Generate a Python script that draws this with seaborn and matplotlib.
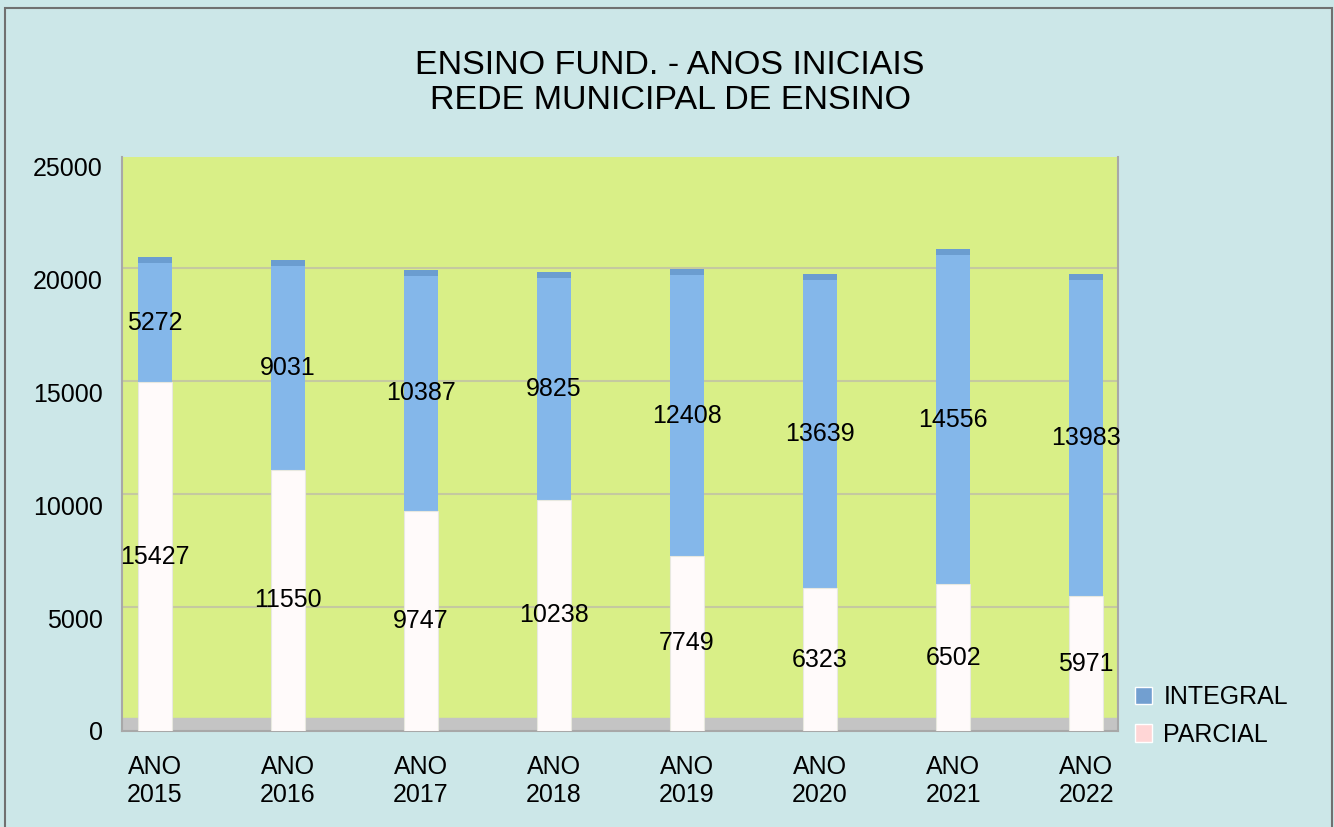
import matplotlib.pyplot as plt
import seaborn as sns
import pandas as pd
from matplotlib.patches import Patch, Rectangle

# data
anos = ["ANO\n2015", "ANO\n2016", "ANO\n2017", "ANO\n2018",
        "ANO\n2019", "ANO\n2020", "ANO\n2021", "ANO\n2022"]
parcial = [15427, 11550, 9747, 10238, 7749, 6323, 6502, 5971]
integral = [5272, 9031, 10387, 9825, 12408, 13639, 14556, 13983]
yticks = [0, 5000, 10000, 15000, 20000, 25000]

df = pd.DataFrame({"ano": anos, "parcial": parcial, "integral": integral})
df["total"] = df["parcial"] + df["integral"]

sns.set_style("white")
plt.rcParams["font.family"] = ["Liberation Sans", "DejaVu Sans"]
plt.rcParams["text.color"] = "black"
plt.rcParams["xtick.color"] = "black"
plt.rcParams["ytick.color"] = "black"

bg = "#cce7e8"
wall = "#d9ef87"
blue = "#84b7ea"
blue_top = "#6b9dd0"
white = "#fffafa"

fig = plt.figure(figsize=(13.34, 8.27), dpi=100, facecolor=bg)
ax = fig.add_axes([122 / 1334, 96 / 827, 996 / 1334, 574 / 827])
ax.set_facecolor(wall)

# back wall depth offset (3d look)
depth = 490
ax.axhspan(0, depth * 1.15, color="#c4c4c4", zorder=0)
for t in yticks[1:-1]:
    ax.axhline(t + depth, color="#c5c9a0", lw=1.5, zorder=0.5)

# stacked bars: total in blue, parcial over it
sns.barplot(data=df, x="ano", y="total", color=blue, width=0.256,
            saturation=1, linewidth=0, ax=ax, zorder=2)
sns.barplot(data=df, x="ano", y="parcial", color=white, width=0.256,
            saturation=1, edgecolor="#e8e8e0", linewidth=0.8, ax=ax, zorder=3)
# top face of the 3d columns
ax.bar(range(len(anos)), 270, bottom=df["total"], width=0.256,
       color=blue_top, linewidth=0, zorder=3)

for i, (p, it) in enumerate(zip(parcial, integral)):
    ax.text(i, p / 2, str(p), ha="center", va="center", fontsize=18, zorder=5)
    ax.text(i, p + it / 2, str(it), ha="center", va="center", fontsize=18, zorder=5)

ax.set_xlim(-0.248, 7.24)
ax.set_ylim(0, 25400)
ax.set_yticks(yticks)
ax.set_yticklabels([str(t) for t in yticks])
ax.set_xlabel("")
ax.set_ylabel("")
ax.tick_params(axis="y", length=0, pad=14, labelsize=18)
ax.tick_params(axis="x", length=0, pad=17, labelsize=18)
for lbl in ax.get_xticklabels():
    lbl.set_linespacing(1.25)
for s in ["left", "right", "bottom"]:
    ax.spines[s].set_color("#a8a8a8")
    ax.spines[s].set_linewidth(1.5)
ax.spines["top"].set_visible(False)

fig.text(670 / 1334, 1 - 83 / 827,
         "ENSINO FUND. - ANOS INICIAIS\nREDE MUNICIPAL DE ENSINO",
         ha="center", va="center", fontsize=24.5, linespacing=1.15)

handles = [Patch(facecolor="#729fd0", label="INTEGRAL"),
           Patch(facecolor="#ffd6d6", label="PARCIAL")]
fig.legend(handles=handles, loc="center left",
           bbox_to_anchor=(1112 / 1334, 1 - 716 / 827), frameon=False,
           fontsize=18, handlelength=0.7, handleheight=0.7,
           handletextpad=0.45, labelspacing=0.55)

fig.patches.append(Rectangle((5 / 1334, -0.01), 1327 / 1334, 1.0 - 8 / 827 + 0.01,
                             transform=fig.transFigure, fill=False,
                             edgecolor="#707070", lw=1.5))

fig.savefig("out.png", dpi=100, facecolor=bg)
